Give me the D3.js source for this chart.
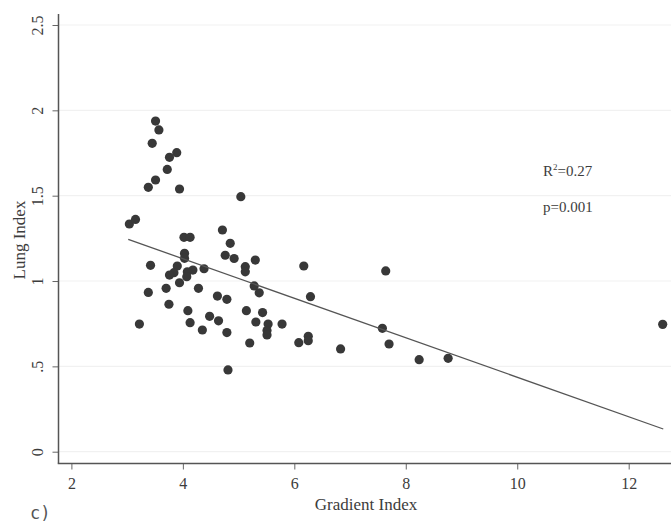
<!DOCTYPE html>
<html>
<head>
<meta charset="utf-8">
<script src="https://cdn.jsdelivr.net/npm/d3@7/dist/d3.min.js"></script>
<style>
  html, body { margin: 0; padding: 0; background: #fff; }
  svg { display: block; }
</style>
</head>
<body>
<svg id="chart" width="671" height="523"></svg>
<script>
// ---- Data ----
const gradientIndex = [3.51,3.57,3.45,3.89,3.76,3.72,3.51,3.38,3.94,5.04,
  3.04,3.15,4.71,4.02,4.13,4.85,4.03,4.03,4.76,4.92,
  5.30,3.42,3.90,5.12,5.12,6.17,7.64,4.38,4.18,4.08,
  3.84,3.76,4.07,3.94,5.28,5.37,3.38,3.70,4.28,4.62,
  4.79,6.29,3.75,4.09,5.14,5.43,3.22,4.13,4.48,4.64,
  5.31,5.53,5.78,5.51,5.51,4.35,4.79,5.20,6.08,6.25,
  6.25,6.83,7.58,7.70,8.24,8.76,12.61,4.81];
const lungIndex = [1.937,1.885,1.807,1.752,1.725,1.654,1.592,1.549,1.539,1.494,
  1.334,1.361,1.299,1.256,1.256,1.221,1.162,1.133,1.151,1.132,
  1.123,1.092,1.088,1.084,1.054,1.088,1.059,1.072,1.064,1.054,
  1.049,1.035,1.025,0.990,0.971,0.931,0.933,0.957,0.957,0.912,
  0.893,0.908,0.864,0.826,0.826,0.815,0.748,0.756,0.793,0.767,
  0.760,0.748,0.748,0.710,0.684,0.713,0.698,0.637,0.639,0.676,
  0.650,0.602,0.723,0.631,0.539,0.547,0.746,0.479];
// fitted line endpoints (as drawn)
const fitX = [3.02, 12.62];
const fitY = [1.244, 0.133];
const xTicks = [2, 4, 6, 8, 10, 12];
const yTicks = [0, 0.5, 1, 1.5, 2, 2.5];
const yTickLabels = ["0", ".5", "1", "1.5", "2", "2.5"];
const xTitle = "Gradient Index";
const yTitle = "Lung Index";
const annR2 = "0.27";
const annP = "p=0.001";
const panelLabel = "c)";

// ---- Layout ----
const W = 671, H = 523;
const axisX = 58.5, axisY = 463.5, axisTop = 14;
const serif = "'Liberation Serif', 'Times New Roman', serif";

const svg = d3.select("#chart");
const x = d3.scaleLinear().domain([2, 12]).range([71.4, 628.7]);
const y = d3.scaleLinear().domain([0, 2.5]).range([451.7, 25]);

// gridlines
svg.append("g").selectAll("line").data(yTicks).join("line")
  .attr("x1", axisX).attr("x2", W)
  .attr("y1", d => y(d)).attr("y2", d => y(d))
  .attr("stroke", "#f1f1f1").attr("stroke-width", 1.2);

// y axis
const gy = svg.append("g").attr("transform", `translate(${axisX},0)`)
  .call(d3.axisLeft(y).tickValues(yTicks).tickSize(6).tickPadding(0)
    .tickFormat((d, i) => yTickLabels[i]));
gy.select(".domain").remove();
gy.selectAll(".tick line").attr("stroke", "#666").attr("stroke-width", 1);
gy.selectAll(".tick text")
  .attr("transform", "rotate(-90)")
  .attr("x", 0).attr("y", -15.5).attr("dy", 0)
  .attr("text-anchor", "middle")
  .attr("font-family", serif).attr("font-size", 16).attr("fill", "#3c3c3c");

// x axis
const gx = svg.append("g").attr("transform", `translate(0,${axisY})`)
  .call(d3.axisBottom(x).tickValues(xTicks).tickSize(6).tickPadding(0)
    .tickFormat(d3.format("d")));
gx.select(".domain").remove();
gx.selectAll(".tick line").attr("stroke", "#666").attr("stroke-width", 1);
gx.selectAll(".tick text")
  .attr("y", 25).attr("dy", 0)
  .attr("font-family", serif).attr("font-size", 16).attr("fill", "#3c3c3c");

// axis lines
svg.append("line").attr("x1", axisX).attr("x2", axisX)
  .attr("y1", axisTop).attr("y2", axisY)
  .attr("stroke", "#555").attr("stroke-width", 1.5);
svg.append("line").attr("x1", axisX - 0.75).attr("x2", W)
  .attr("y1", axisY).attr("y2", axisY)
  .attr("stroke", "#555").attr("stroke-width", 1.5);

// points
const pts = gradientIndex.map((g, i) => ({g, l: lungIndex[i]}));
svg.append("g").selectAll("circle").data(pts).join("circle")
  .attr("cx", d => x(d.g)).attr("cy", d => y(d.l)).attr("r", 4.6)
  .attr("fill", "#383838");

// fit line
svg.append("line")
  .attr("x1", x(fitX[0])).attr("y1", y(fitY[0]))
  .attr("x2", x(fitX[1])).attr("y2", y(fitY[1]))
  .attr("stroke", "#555").attr("stroke-width", 1.3);

// annotation
const t1 = svg.append("text").attr("x", 543).attr("y", 176)
  .attr("font-family", serif).attr("font-size", 15).attr("fill", "#3c3c3c");
t1.append("tspan").text("R");
t1.append("tspan").attr("dy", -6).attr("font-size", 9).text("2");
t1.append("tspan").attr("dy", 6).text("=" + annR2);
svg.append("text").attr("x", 543).attr("y", 211.5)
  .attr("font-family", serif).attr("font-size", 15).attr("fill", "#3c3c3c")
  .text(annP);

// axis titles
svg.append("text").attr("x", 366).attr("y", 510)
  .attr("text-anchor", "middle")
  .attr("font-family", serif).attr("font-size", 17).attr("fill", "#3c3c3c")
  .text(xTitle);
svg.append("text").attr("transform", "translate(25,240) rotate(-90)")
  .attr("text-anchor", "middle")
  .attr("font-family", serif).attr("font-size", 17).attr("fill", "#3c3c3c")
  .text(yTitle);

// panel label
svg.append("text").attr("x", 30).attr("y", 519)
  .attr("font-family", "'DejaVu Sans Mono', monospace").attr("font-size", 17)
  .attr("fill", "#555").text(panelLabel);
</script>
</body>
</html>
